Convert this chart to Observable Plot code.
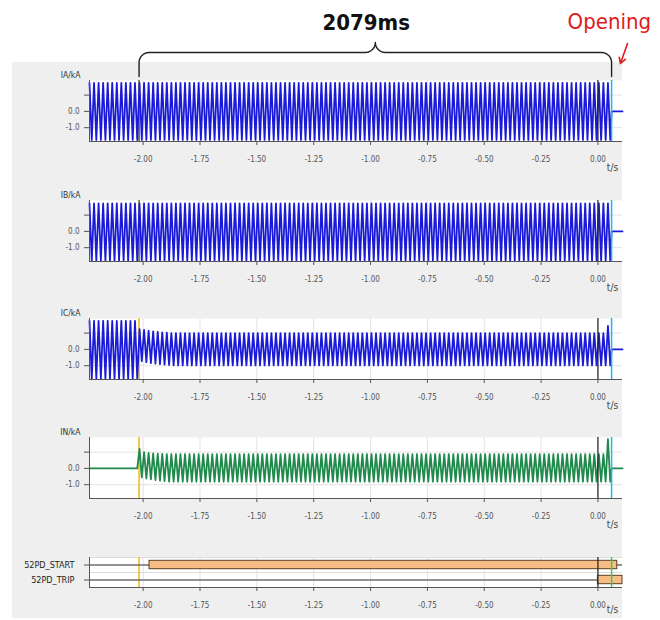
<!DOCTYPE html>
<html><head><meta charset="utf-8">
<script src="https://cdn.jsdelivr.net/npm/d3@7"></script>
<script src="https://cdn.jsdelivr.net/npm/@observablehq/plot@0.6"></script>
<style>
body{margin:0;background:#fff;}
#wrap{position:relative;width:660px;height:620px;overflow:hidden;}
#bg{position:absolute;left:12px;top:62px;width:610px;height:556px;background:#efefef;}
.panel{position:absolute;left:0;}
.panel svg{overflow:visible;}
</style></head><body><div id="wrap"><div id="bg"></div></div>
<script>
// ---------- data ----------
const xTicks = [-2.00, -1.75, -1.50, -1.25, -1.00, -0.75, -0.50, -0.25, 0.00];
const yTicks = [1, 0, -1];
const yTickLabels = ["", "0.0", "-1.0"];
const analogNames = ["IA/kA", "IB/kA", "IC/kA", "IN/kA"];
const axisLabelX = "t/s";
const tBegin = -2.236, tEnd = 0.108;   // visible time window (s)
const tFault = -2.018;                  // fault inception marker
const tOpen = 0.060;                    // breaker opening marker
const durationLabel = "2079ms";
const openingLabel = "Opening";
const halfCycle = 0.01;                 // 50 Hz system
// [start, end, +peak, -peak] in kA
const iaSegments = [[tBegin, tOpen, 1.75, -1.75]];
const ibSegments = [[tBegin, tOpen, 1.72, -1.80]];
const icSegments = [[tBegin, tFault, 1.76, -1.80], [tFault, tOpen, 1.00, -0.98]];
const inSegments = [[tBegin, tFault, 0, 0], [tFault, tOpen, 0.88, -0.82]];
// first half-cycle peaks after the fault (DC offset decay)
const icTransient = [1.25, -0.72, 1.20, -0.78, 1.15, -0.84, 1.11, -0.88, 1.08, -0.91, 1.05, -0.94, 1.03, -0.96];
const inTransient = [1.20, -0.55, 1.00, -0.62, 0.95, -0.68, 0.92, -0.72, 0.90, -0.76, 0.89, -0.79];
const lastPeaks = [null, null, 1.45, 1.80];
const digitalNames = ["52PD_START", "52PD_TRIP"];
const digitalOn = [-1.972, 0.000];
const digitalOff = [0.085, tEnd];

// ---------- build series ----------
function buildWave(segments, transient, lastPeak) {
  const pts = [];
  let postIndex = 0;
  for (let k = 0; tBegin + k * halfCycle < tOpen; k++) {
    const t = tBegin + k * halfCycle;
    const seg = segments.find(s => t >= s[0] && t < s[1]) || segments[segments.length - 1];
    let v;
    if (seg[0] === tFault) {
      v = (transient && postIndex < transient.length) ? transient[postIndex] : (postIndex % 2 === 0 ? seg[2] : seg[3]);
      postIndex++;
    } else {
      v = k % 2 === 0 ? seg[2] : seg[3];
    }
    pts.push({t, v});
  }
  if (lastPeak != null) {
    for (let i = pts.length - 1; i >= 0; i--) if (pts[i].v > 0) { pts[i].v = lastPeak; break; }
  }
  pts.push({t: tOpen, v: 0}, {t: tEnd, v: 0});
  return pts;
}
const waves = [
  buildWave(iaSegments, null, lastPeaks[0]),
  buildWave(ibSegments, null, lastPeaks[1]),
  buildWave(icSegments, icTransient, lastPeaks[2]),
  buildWave(inSegments, inTransient, lastPeaks[3])
];
const waveColors = ["#1a1ad8", "#1a1ad8", "#1a1ad8", "#1f8a4c"];
const faultColors = ["#5c5c22", "#6a6a24", "#f2b705", "#f2b705"];

const FONT = "'Liberation Sans Narrow','Arial Narrow','DejaVu Sans Condensed','Liberation Sans',sans-serif";
const Y0 = -1.85, Y1 = 1.9;
const xScale = {domain: [tBegin, tEnd], ticks: xTicks, tickFormat: d => d.toFixed(2), tickSize: 4, tickPadding: 11, label: null};

const wrap = document.getElementById("wrap");
function place(svg, top) {
  const d = document.createElement("div");
  d.className = "panel"; d.style.top = top + "px";
  d.appendChild(svg); wrap.appendChild(d);
}

const tops = [70, 190, 308, 427];
analogNames.forEach((name, i) => {
  const svg = Plot.plot({
    width: 660, height: 101, marginTop: 10, marginBottom: 30, marginLeft: 89, marginRight: 38,
    style: {background: "transparent", fontFamily: FONT, fontSize: "8px", color: "#555", overflow: "visible"},
    x: xScale,
    y: {domain: [Y0, Y1], ticks: yTicks, tickFormat: d => yTickLabels[yTicks.indexOf(d)], tickSize: 5, tickPadding: 5, label: null},
    marks: [
      Plot.frame({fill: "white", stroke: "none"}),
      Plot.ruleX(xTicks, {stroke: "#e3e3e3"}),
      Plot.ruleY([1, -1], {stroke: "#e3e3e3"}),
      Plot.ruleX([tFault], {stroke: faultColors[i], strokeWidth: 1.5}),
      Plot.line(waves[i], {x: "t", y: "v", stroke: waveColors[i], strokeWidth: 1.8}),
      Plot.ruleX([0], {stroke: "#222", strokeWidth: 1.2}),
      Plot.ruleX([tOpen], {stroke: "#1fb8e8", strokeWidth: 1.5}),
      Plot.ruleX([tBegin], {stroke: "#555"}),
      Plot.ruleY([Y0], {stroke: "#555"}),
      Plot.text([name], {x: tBegin, y: Y1, text: d => d, dx: -9, dy: -5, textAnchor: "end", fontSize: 8.5, fill: "#333"}),
      Plot.text([axisLabelX], {x: 0.064, y: Y0, text: d => d, dy: 26, fontSize: 10, fill: "#444"})
    ]
  });
  place(svg, tops[i]);
});

// digital channels
const digitalRows = digitalNames.map((n, i) => ({name: n, level: 1.5 - i, on: digitalOn[i], off: digitalOff[i]}));
const dsvg = Plot.plot({
  width: 660, height: 68, marginTop: 10, marginBottom: 28, marginLeft: 89, marginRight: 38,
  style: {background: "transparent", fontFamily: FONT, fontSize: "8px", color: "#555", overflow: "visible"},
  x: xScale,
  y: {domain: [0, 2], ticks: digitalRows.map(d => d.level), tickFormat: () => "", tickSize: 5, label: null},
  marks: [
    Plot.frame({fill: "white", stroke: "none"}),
    Plot.ruleX(xTicks, {stroke: "#e3e3e3"}),
    Plot.ruleY([1, 2], {stroke: "#dcdcdc"}),
    Plot.ruleX([tFault], {stroke: "#f2b705", strokeWidth: 1.5}),
    Plot.ruleY(digitalRows, {y: "level", stroke: "#6e6e6e", strokeWidth: 1.6}),
    Plot.rect(digitalRows, {x1: "on", x2: "off", y1: d => d.level - 0.28, y2: d => d.level + 0.28, fill: "#f8bd84", stroke: "#5a3d22", strokeWidth: 1}),
    Plot.ruleX([0], {stroke: "#222", strokeWidth: 1.2}),
    Plot.ruleX([tOpen], {stroke: "#3cc85a", strokeWidth: 1.5}),
    Plot.ruleX([tBegin], {stroke: "#555"}),
    Plot.ruleY([0], {stroke: "#555"}),
    Plot.text(digitalRows, {x: tBegin, y: "level", text: "name", dx: -15, textAnchor: "end", fontSize: 9, fill: "#222"}),
    Plot.text([axisLabelX], {x: 0.064, y: 0, text: d => d, dy: 22, fontSize: 10, fill: "#444"})
  ]
});
place(dsvg, 547);

// annotation: brace, duration label, opening arrow
const pxPerSec = (660 - 89 - 38) / (tEnd - tBegin);
const r = 10 / pxPerSec;
const xm = (tFault + tOpen) / 2;
const brace = [];
const steps = 8;
brace.push({x: tFault, y: 76});
for (let s = 0; s <= steps; s++) { const a = s / steps * Math.PI / 2; brace.push({x: tFault + r - r * Math.cos(a), y: 62 - 10 * Math.sin(a)}); }
for (let s = 0; s <= steps; s++) { const a = s / steps * Math.PI / 2; brace.push({x: xm - r + r * Math.sin(a), y: 42 + 10 * Math.cos(a)}); }
for (let s = 0; s <= steps; s++) { const a = s / steps * Math.PI / 2; brace.push({x: xm + r - r * Math.cos(a), y: 42 + 10 * Math.sin(a)}); }
for (let s = 0; s <= steps; s++) { const a = s / steps * Math.PI / 2; brace.push({x: tOpen - r + r * Math.sin(a), y: 62 - 10 * Math.cos(a)}); }
brace.push({x: tOpen, y: 76});
const asvg = Plot.plot({
  width: 660, height: 80, marginTop: 0, marginBottom: 0, marginLeft: 89, marginRight: 38,
  style: {background: "transparent", overflow: "visible"},
  x: {domain: [tBegin, tEnd], axis: null},
  y: {domain: [80, 0], axis: null},
  marks: [
    Plot.line(brace, {x: "x", y: "y", stroke: "#222", strokeWidth: 1.4}),
    Plot.text([durationLabel], {x: xm - 0.04, y: 22, text: d => d, fontSize: 22, fontWeight: "bold", fill: "#111", fontFamily: FONT}),
    Plot.text([openingLabel], {x: 0.05, y: 21, text: d => d, fontSize: 22, fill: "#e01b1b", fontFamily: FONT}),
    Plot.arrow([{}], {x1: 0.13, y1: 43, x2: 0.099, y2: 63, stroke: "#e01b1b", strokeWidth: 1.6, headLength: 6})
  ]
});
place(asvg, 0);
</script></body></html>
